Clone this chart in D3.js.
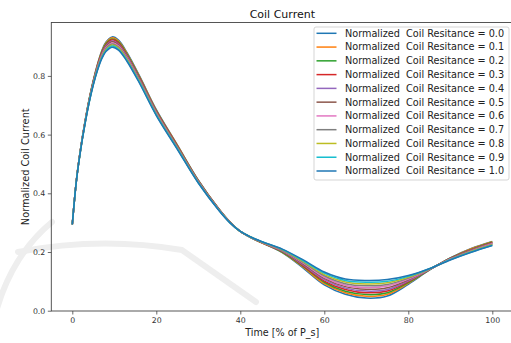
<!DOCTYPE html>
<html>
<head>
<meta charset="utf-8">
<script src="https://cdn.jsdelivr.net/npm/d3@7"></script>
<style>
  html, body { margin: 0; padding: 0; background: #fff; }
  svg { display: block; font-family: "DejaVu Sans", sans-serif; }
</style>
</head>
<body>
<svg id="chart" width="511" height="343"></svg>
<script>
// ---- data ----
const xValues = [0,1,2,3,4,5,6,7,8,9.5,11,13,16,20,25,30,35,37.5,40,42.5,45,50,55,60,65,70,75,80,85,90,95,100];
const seriesLabels = ["0.0","0.1","0.2","0.3","0.4","0.5","0.6","0.7","0.8","0.9","1.0"];
const r00 = [0.294,0.448,0.555,0.643,0.720,0.785,0.840,0.885,0.915,0.933,0.922,0.880,0.800,0.685,0.565,0.445,0.345,0.303,0.270,0.249,0.232,0.198,0.145,0.088,0.056,0.043,0.050,0.090,0.138,0.180,0.212,0.236];
const r01 = [0.294,0.448,0.554,0.642,0.719,0.783,0.838,0.882,0.912,0.930,0.919,0.877,0.798,0.683,0.564,0.444,0.345,0.303,0.270,0.249,0.232,0.199,0.148,0.092,0.061,0.049,0.056,0.093,0.139,0.179,0.211,0.235];
const r02 = [0.294,0.447,0.554,0.641,0.718,0.782,0.836,0.880,0.909,0.926,0.915,0.874,0.795,0.681,0.562,0.443,0.344,0.302,0.270,0.249,0.233,0.200,0.151,0.097,0.066,0.055,0.061,0.096,0.139,0.179,0.209,0.233];
const r03 = [0.294,0.447,0.553,0.640,0.716,0.780,0.834,0.877,0.905,0.923,0.912,0.871,0.793,0.679,0.561,0.442,0.344,0.302,0.270,0.250,0.233,0.202,0.153,0.101,0.072,0.061,0.067,0.099,0.140,0.178,0.208,0.232];
const r04 = [0.294,0.447,0.553,0.639,0.715,0.779,0.832,0.874,0.902,0.919,0.908,0.868,0.790,0.677,0.559,0.441,0.343,0.302,0.270,0.250,0.234,0.203,0.156,0.106,0.077,0.067,0.072,0.102,0.140,0.177,0.207,0.230];
const r05 = [0.294,0.446,0.552,0.639,0.714,0.777,0.830,0.872,0.899,0.916,0.905,0.865,0.788,0.675,0.558,0.440,0.343,0.302,0.270,0.250,0.234,0.204,0.159,0.110,0.082,0.073,0.078,0.105,0.141,0.177,0.206,0.229];
const r06 = [0.294,0.446,0.551,0.638,0.713,0.775,0.827,0.869,0.896,0.912,0.902,0.862,0.785,0.673,0.556,0.439,0.342,0.301,0.270,0.250,0.234,0.205,0.162,0.114,0.087,0.079,0.084,0.108,0.141,0.176,0.204,0.228];
const r07 = [0.294,0.446,0.551,0.637,0.712,0.774,0.825,0.866,0.893,0.909,0.898,0.859,0.783,0.671,0.555,0.438,0.342,0.301,0.270,0.250,0.235,0.206,0.165,0.119,0.092,0.085,0.089,0.111,0.142,0.175,0.203,0.226];
const r08 = [0.294,0.446,0.550,0.636,0.710,0.772,0.823,0.863,0.889,0.905,0.895,0.856,0.780,0.669,0.553,0.437,0.341,0.301,0.270,0.251,0.235,0.208,0.167,0.123,0.098,0.091,0.095,0.114,0.142,0.174,0.202,0.225];
const r09 = [0.294,0.445,0.550,0.635,0.709,0.771,0.821,0.861,0.886,0.902,0.891,0.853,0.778,0.667,0.552,0.436,0.341,0.300,0.270,0.251,0.236,0.209,0.170,0.128,0.103,0.097,0.100,0.117,0.143,0.174,0.200,0.223];
const r10 = [0.294,0.445,0.549,0.634,0.708,0.769,0.819,0.858,0.883,0.898,0.888,0.850,0.775,0.665,0.550,0.435,0.340,0.300,0.270,0.251,0.236,0.210,0.173,0.132,0.108,0.103,0.106,0.120,0.143,0.173,0.199,0.222];
const seriesValues = [r00,r01,r02,r03,r04,r05,r06,r07,r08,r09,r10];
const xTicks = [0,20,40,60,80,100];
const yTicks = [0.0,0.2,0.4,0.6,0.8];
const colors = ["#1f77b4","#ff7f0e","#2ca02c","#d62728","#9467bd","#8c564b","#e377c2","#7f7f7f","#bcbd22","#17becf","#1f77b4"];

// ---- layout ----
const svg = d3.select("#chart");
const plot = {left: 51.3, right: 513.3, top: 22.5, bottom: 311};
const x = d3.scaleLinear().domain([-5, 105]).range([plot.left, plot.right]);
const y = d3.scaleLinear().domain([-0.001, 0.982]).range([plot.bottom, plot.top]);

// faint background watermark arcs (scan artefact in the reference)
const wm = svg.append("g").attr("fill", "none").attr("stroke", "#eeeeee").attr("stroke-width", 6).attr("stroke-linecap", "round");
wm.append("path").attr("d", "M-4,312 Q12,255 52,222");
wm.append("path").attr("d", "M18,252 Q100,236 182,250 L256,302");

const g = svg.append("g");

// lines
const line = d3.line().x((d, i) => x(xValues[i])).y(d => y(d)).curve(d3.curveCatmullRom.alpha(0.5));
seriesValues.forEach((vals, k) => {
  g.append("path").datum(vals)
    .attr("fill", "none")
    .attr("stroke", colors[k])
    .attr("stroke-width", 1.5)
    .attr("d", line);
});

// axes
const xAxis = d3.axisBottom(x).tickValues(xTicks).tickFormat(d3.format("d")).tickSize(3.5).tickPadding(2.5);
const yAxis = d3.axisLeft(y).tickValues(yTicks).tickFormat(d3.format(".1f")).tickSize(3.5).tickPadding(2.5);
const gx = svg.append("g").attr("transform", `translate(0,${plot.bottom})`).call(xAxis);
const gy = svg.append("g").attr("transform", `translate(${plot.left},0)`).call(yAxis);
[gx, gy].forEach(a => {
  a.select(".domain").remove();
  a.selectAll(".tick line").attr("stroke", "#444").attr("stroke-width", 0.8);
  a.selectAll(".tick text").attr("fill", "#333").style("font-size", "7.8px").style("font-family", "DejaVu Sans");
});

// spines
svg.append("rect")
  .attr("x", plot.left).attr("y", plot.top)
  .attr("width", plot.right - plot.left).attr("height", plot.bottom - plot.top)
  .attr("fill", "none").attr("stroke", "#444").attr("stroke-width", 0.9);

// title and axis labels
svg.append("text").attr("x", (plot.left + plot.right) / 2).attr("y", 18)
  .attr("text-anchor", "middle").style("font-size", "11px").attr("fill", "#111").text("Coil Current");
svg.append("text").attr("x", (plot.left + plot.right) / 2).attr("y", 336)
  .attr("text-anchor", "middle").style("font-size", "9.6px").attr("fill", "#222").text("Time [% of P_s]");
svg.append("text").attr("transform", `translate(28.5,${(plot.top + plot.bottom) / 2}) rotate(-90)`)
  .attr("text-anchor", "middle").style("font-size", "9.8px").attr("fill", "#222").text("Normalized Coil Current");

// legend
const lg = svg.append("g");
lg.append("rect").attr("x", 314).attr("y", 27).attr("width", 195).attr("height", 153)
  .attr("rx", 2).attr("fill", "#fff").attr("fill-opacity", 0.85)
  .attr("stroke", "#d0d0d0").attr("stroke-width", 0.9);
seriesLabels.forEach((lab, k) => {
  const yy = 33.3 + k * 13.77;
  lg.append("line").attr("x1", 316.5).attr("x2", 336.5).attr("y1", yy).attr("y2", yy)
    .attr("stroke", colors[k]).attr("stroke-width", 1.5);
  lg.append("text").attr("x", 345).attr("y", yy + 3.4)
    .style("font-size", "9.7px").attr("fill", "#222")
    .attr("xml:space", "preserve")
    .style("white-space", "pre")
    .text("Normalized  Coil Resitance = " + lab);
});
</script>
</body>
</html>
